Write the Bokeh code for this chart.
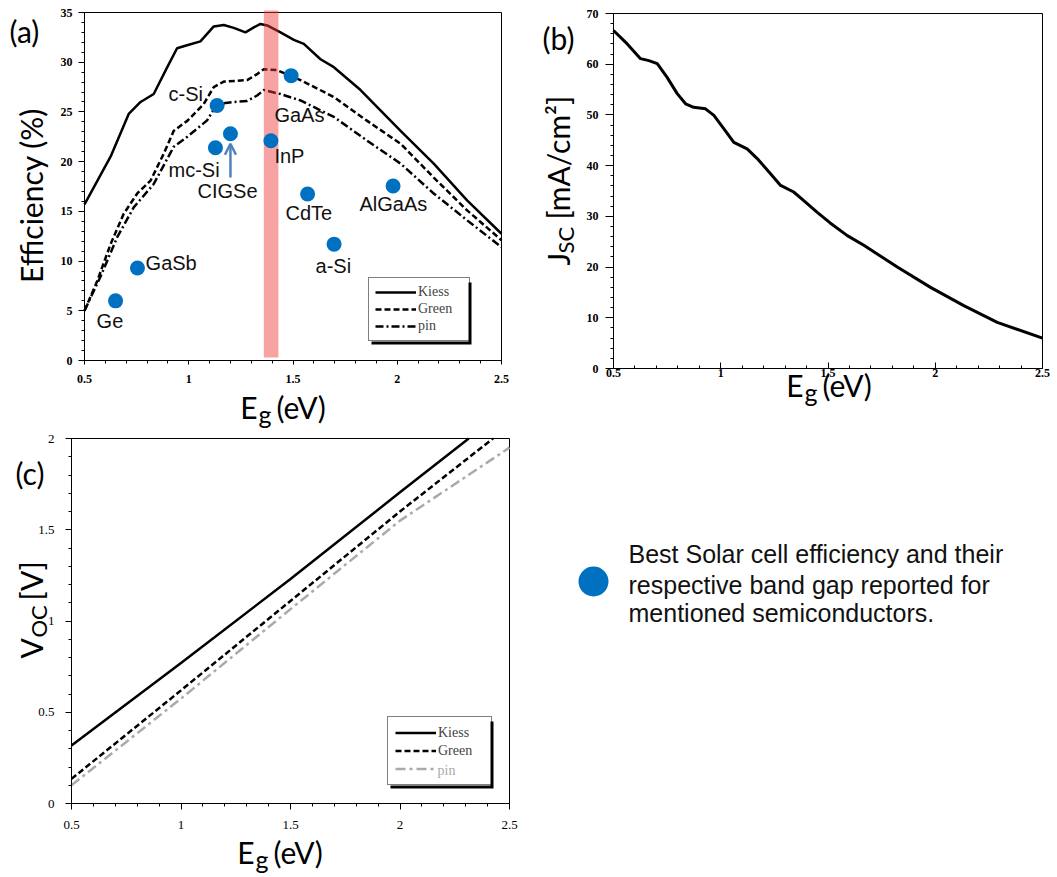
import numpy as np
from bokeh.plotting import figure
from bokeh.models import (Range1d, FixedTicker, CustomJSTickFormatter, Label, Legend,
                          LegendItem, Arrow, OpenHead, BoxAnnotation)
from bokeh.layouts import row, column
from bokeh.embed import file_html
from bokeh.resources import INLINE
from bokeh.core.properties import value

# ---------------- data: panel (a) efficiency vs band gap ----------------
kiess_eg = [0.50, 0.625, 0.712, 0.769, 0.832, 0.897, 0.944, 0.992, 1.056, 1.12, 1.168,
            1.216, 1.272, 1.312, 1.344, 1.376, 1.44, 1.504, 1.552, 1.632, 1.696, 1.824,
            2.016, 2.175, 2.335, 2.50]
kiess_eff = [15.7, 20.5, 24.8, 26.0, 26.8, 29.5, 31.4, 31.7, 32.1, 33.6, 33.75,
             33.45, 33.0, 33.5, 33.85, 33.7, 33.0, 32.25, 31.85, 30.3, 29.5, 27.2,
             23.1, 19.8, 16.1, 12.75]
green_eg = [0.50, 0.561, 0.625, 0.688, 0.753, 0.817, 0.88, 0.928, 0.993, 1.072, 1.12,
            1.168, 1.28, 1.328, 1.36, 1.424, 1.536, 1.696, 1.856, 2.016, 2.175, 2.335, 2.50]
green_eff = [5.0, 8.0, 11.7, 14.75, 16.8, 18.1, 20.8, 23.1, 24.1, 25.8, 27.5,
             28.05, 28.2, 28.8, 29.3, 29.2, 28.2, 26.5, 24.1, 21.8, 18.4, 15.1, 12.1]
pin_eg = [0.50, 0.576, 0.657, 0.736, 0.832, 0.928, 0.993, 1.088, 1.136, 1.216, 1.28,
          1.328, 1.36, 1.44, 1.536, 1.696, 1.856, 2.016, 2.175, 2.335, 2.50]
pin_eff = [5.0, 8.4, 12.4, 15.4, 17.75, 21.5, 22.5, 24.15, 25.8, 26.0, 26.1,
           26.65, 27.2, 26.8, 26.15, 24.5, 22.1, 19.8, 16.8, 14.1, 11.4]

materials = ["Ge", "GaSb", "c-Si", "mc-Si", "CIGSe", "InP", "GaAs", "CdTe", "a-Si", "AlGaAs"]
mat_eg = [0.649, 0.754, 1.136, 1.128, 1.20, 1.394, 1.491, 1.57, 1.697, 1.98]
mat_eff = [6.0, 9.3, 25.65, 21.4, 22.8, 22.1, 28.65, 16.75, 11.7, 17.55]
mat_label_eg = [0.558, 0.793, 0.903, 0.903, 1.042, 1.411, 1.411, 1.464, 1.608, 1.819]
mat_label_eff = [4.0, 9.76, 26.76, 19.2, 17.0, 20.6, 24.65, 14.8, 9.46, 15.7]

band_eg = [1.36, 1.43]          # highlighted band-gap window
band_eff = [0.3, 35.2]
arrow_eg = 1.20                 # arrow pointing at CIGSe
arrow_eff = [18.4, 21.8]

# ---------------- data: panel (b) Jsc vs band gap ----------------
jsc_eg = [0.50, 0.564, 0.626, 0.665, 0.704, 0.750, 0.797, 0.836, 0.874, 0.929, 0.968,
          1.014, 1.061, 1.123, 1.170, 1.232, 1.279, 1.34, 1.387, 1.45, 1.51, 1.59,
          1.667, 1.823, 1.978, 2.133, 2.289, 2.50]
jsc_val = [66.65, 64.0, 61.1, 60.7, 60.1, 57.4, 54.2, 52.2, 51.5, 51.2, 49.9,
           47.3, 44.6, 43.3, 41.4, 38.4, 36.1, 34.8, 33.1, 30.8, 28.7, 26.2,
           24.3, 20.0, 16.0, 12.4, 9.1, 6.0]

# ---------------- data: panel (c) Voc vs band gap ----------------
voc_kiess_eg = [0.5, 1.0, 1.5, 2.0, 2.314]
voc_kiess = [0.318, 0.77, 1.23, 1.705, 2.0]
voc_green_eg = [0.5, 1.0, 1.5, 2.0, 2.425]
voc_green = [0.135, 0.62, 1.11, 1.60, 2.0]
voc_pin_eg = [0.5, 1.0, 1.5, 2.0, 2.5]
voc_pin = [0.10, 0.575, 1.065, 1.55, 1.95]

# ---------------- ticks ----------------
eg_ticks = [0.5, 1.0, 1.5, 2.0, 2.5]
eg_minor = [round(0.5 + 0.1 * i, 2) for i in range(21)]
eff_ticks = [0, 5, 10, 15, 20, 25, 30, 35]
eff_minor = list(range(0, 36))
jsc_ticks = [0, 10, 20, 30, 40, 50, 60, 70]
jsc_minor = list(range(0, 71, 2))
voc_ticks = [0, 0.5, 1.0, 1.5, 2.0]
voc_minor = [round(0.1 * i, 2) for i in range(21)]

key_text = ["Best Solar cell efficiency and their",
            "respective band gap reported for",
            "mentioned semiconductors."]

# ---------------- styling ----------------
TITLE_FONT = "Lato"
TICK_FONT = "Liberation Serif"
ANN_FONT = "Liberation Sans"
DOT = "#0070C0"
HALF_PI = np.pi / 2


def make_panel(canvas, box, xd, yd, xt, xm, yt, ym, x_in=False, x_out=5, y_out=6,
               x_stand=9, y_stand=6, tick_style="bold", tick_size="12px"):
    """canvas = (left, top, width, height) on the page; box = pixel edges of the data area."""
    L, T, W, H = canvas
    bx0, bx1, by_top, by_bot = box
    sx = (xd[1] - xd[0]) / (bx1 - bx0)
    sy = (yd[1] - yd[0]) / (by_bot - by_top)
    xr = Range1d(xd[0] - (bx0 - L) * sx, xd[1] + (L + W - bx1) * sx)
    yr = Range1d(yd[0] - (T + H - by_bot) * sy, yd[1] + (by_top - T) * sy)
    p = figure(width=W, height=H, x_range=xr, y_range=yr, title=None,
               output_backend="svg", toolbar_location=None, tools="")
    p.min_border_left = p.min_border_right = p.min_border_top = p.min_border_bottom = 0
    p.grid.visible = False
    p.outline_line_color = None
    p.border_fill_color = "white"
    p.background_fill_color = "white"
    p.quad(left=xd[0], right=xd[1], bottom=yd[0], top=yd[1], fill_color=None,
           line_color="black", line_width=1)
    p.xaxis.ticker = FixedTicker(ticks=xt, minor_ticks=xm)
    p.yaxis.ticker = FixedTicker(ticks=yt, minor_ticks=ym)
    p.xaxis.fixed_location = yd[0]
    p.yaxis.fixed_location = xd[0]
    p.xaxis.bounds = tuple(xd)
    p.yaxis.bounds = tuple(yd)
    for ax in (p.xaxis[0], p.yaxis[0]):
        ax.formatter = CustomJSTickFormatter(code="return (Math.round(tick*100)/100).toString();")
        ax.axis_line_color = "black"
        ax.major_tick_line_color = "black"
        ax.minor_tick_line_color = "black"
        ax.major_label_text_font = TICK_FONT
        ax.major_label_text_font_size = tick_size
        ax.major_label_text_font_style = tick_style
        ax.major_label_text_color = "black"
    if x_in:
        p.xaxis.major_tick_in, p.xaxis.major_tick_out = 6, 0
        p.xaxis.minor_tick_in, p.xaxis.minor_tick_out = 3, 0
    else:
        p.xaxis.major_tick_in, p.xaxis.major_tick_out = 0, x_out
        p.xaxis.minor_tick_in, p.xaxis.minor_tick_out = 0, 3
    p.yaxis.major_tick_in, p.yaxis.major_tick_out = 0, y_out
    p.yaxis.minor_tick_in, p.yaxis.minor_tick_out = 0, 3
    p.xaxis.major_label_standoff = x_stand
    p.yaxis.major_label_standoff = y_stand
    p._canvas = canvas
    return p


def lab(p, px, py, text, size=30, angle=0.0, align="left", color="black",
        font=TITLE_FONT):
    """Place text centred (vertically) on page pixel (px, py) inside figure p."""
    L, T, W, H = p._canvas
    p.add_layout(Label(x=px - L, y=T + H - py, x_units="screen", y_units="screen",
                       text=text, text_font=font, text_font_size=f"{size}px",
                       angle=angle, text_align=align, text_baseline="middle",
                       text_color=color))


def eg_title(p, e_right, mid):
    lab(p, e_right, mid, "E", align="right")
    lab(p, e_right + 1, mid + 7, "g", size=25)
    lab(p, e_right + 19, mid, "(eV)")


def boxed_legend(p, items, left, top, w, h, extra_text=None, **kw):
    L, T, W, H = p._canvas
    bottom = top + h
    # drop shadow and white panel behind a transparent legend
    for dx, col in ((3, "black"), (0, "white")):
        p.add_layout(BoxAnnotation(left=left + dx - L, right=left + w + dx - L,
                                   bottom=T + H - (bottom + dx), top=T + H - (top + dx),
                                   left_units="screen", right_units="screen",
                                   bottom_units="screen", top_units="screen",
                                   fill_color=col, fill_alpha=1.0, line_color=None))
    if extra_text is not None:
        tx, ty, txt, col = extra_text
        lab(p, tx, ty, txt, size=14, font=TICK_FONT, color=col)
    leg = Legend(items=items, location=(left - L, T + H - bottom),
                 border_line_color="black", border_line_width=1.5,
                 background_fill_alpha=0.0,
                 label_text_font=TICK_FONT, label_text_font_size="14px",
                 glyph_width=41, label_standoff=2, margin=0, **kw)
    p.add_layout(leg)


# ---------------- panel (a) ----------------
pa = make_panel((0, 0, 540, 430), (84, 501, 12, 360), (0.5, 2.5), (0, 35),
                eg_ticks, eg_minor, eff_ticks, eff_minor, x_out=4, y_out=6,
                x_stand=10, y_stand=6)
r_k = pa.line(kiess_eg, kiess_eff, line_color="black", line_width=2.5)
r_g = pa.line(green_eg, green_eff, line_color="black", line_width=2.5, line_dash="6 3")
r_p = pa.line(pin_eg, pin_eff, line_color="black", line_width=2.5, line_dash="8 3 2 3")
pa.quad(left=band_eg[0], right=band_eg[1], bottom=band_eff[0], top=band_eff[1],
        fill_color="#f03c3c", fill_alpha=0.47, line_color=None)
pa.scatter(mat_eg, mat_eff, size=15, fill_color=DOT, line_color=None)
pa.text(x=mat_label_eg, y=mat_label_eff, text=materials, text_font=value(ANN_FONT),
        text_font_size="20px", text_align="left", text_baseline="middle", text_color="#111111")
pa.add_layout(Arrow(end=OpenHead(size=11, line_color="#4F81BD", line_width=2.5),
                    x_start=arrow_eg, y_start=arrow_eff[0], x_end=arrow_eg, y_end=arrow_eff[1],
                    line_color="#4F81BD", line_width=2.5))
boxed_legend(pa, [LegendItem(label="Kiess", renderers=[r_k]),
                  LegendItem(label="Green", renderers=[r_g]),
                  LegendItem(label="pin", renderers=[r_p])],
             368, 279, 100, 62, glyph_height=16, label_height=16, label_width=45,
             padding=6, spacing=1)
lab(pa, 9, 30, "(a)")
lab(pa, 30, 195, "Efficiency (%)", angle=HALF_PI, align="center")
eg_title(pa, 257, 406)

# ---------------- panel (b) ----------------
pb = make_panel((540, 0, 512, 430), (613, 1042, 13, 368), (0.5, 2.5), (0, 70),
                eg_ticks, eg_minor, jsc_ticks, jsc_minor, x_in=True, y_out=8,
                x_stand=0, y_stand=7)
pb.line(jsc_eg, jsc_val, line_color="black", line_width=3)
lab(pb, 542, 37, "(b)")
lab(pb, 557, 265, "J", angle=HALF_PI)
lab(pb, 565, 253, "SC", size=22, angle=HALF_PI)
lab(pb, 557, 219, "[mA/cm²]", angle=HALF_PI)
eg_title(pb, 803, 384)

# ---------------- panel (c) ----------------
pc = make_panel((0, 430, 540, 445), (71, 509, 438, 803), (0.5, 2.5), (0, 2),
                eg_ticks, eg_minor, voc_ticks, voc_minor, x_out=6, y_out=6,
                x_stand=11, y_stand=11, tick_style="normal", tick_size="13px")
c_k = pc.line(voc_kiess_eg, voc_kiess, line_color="black", line_width=2.5)
c_g = pc.line(voc_green_eg, voc_green, line_color="black", line_width=2.5, line_dash="6 3")
c_p = pc.line(voc_pin_eg, voc_pin, line_color="#aaaaaa", line_width=2.5, line_dash="10 4 3 4")
boxed_legend(pc, [LegendItem(label="Kiess", renderers=[c_k]),
                  LegendItem(label="Green", renderers=[c_g]),
                  LegendItem(label=" ", renderers=[c_p])],
             387, 718, 103, 67, extra_text=(437, 770, "pin", "#aaaaaa"),
             glyph_height=17, label_height=17, label_width=46, padding=7, spacing=1)
lab(pc, 15, 472, "(c)")
lab(pc, 30, 658, "V", angle=HALF_PI)
lab(pc, 38, 637, "OC", size=22, angle=HALF_PI)
lab(pc, 30, 600, "[V]", angle=HALF_PI)
eg_title(pc, 254, 851)

# ---------------- key (bottom right) ----------------
KL, KT, KW, KH = 540, 430, 512, 445
pd = figure(width=KW, height=KH, x_range=Range1d(KL, KL + KW), y_range=Range1d(KT + KH, KT),
            title=None, output_backend="svg", toolbar_location=None, tools="")
pd.min_border_left = pd.min_border_right = pd.min_border_top = pd.min_border_bottom = 0
pd.axis.visible = False
pd.grid.visible = False
pd.outline_line_color = None
pd.scatter([593], [581], size=30, fill_color=DOT, line_color=None)
pd.text(x=[628, 628, 628], y=[553, 584, 612], text=key_text, text_font=value(ANN_FONT),
        text_font_size="25px", text_align="left", text_baseline="middle",
        text_color="#111111")

layout = column(row(pa, pb), row(pc, pd))
open("out.html", "w").write(file_html(layout, INLINE))
